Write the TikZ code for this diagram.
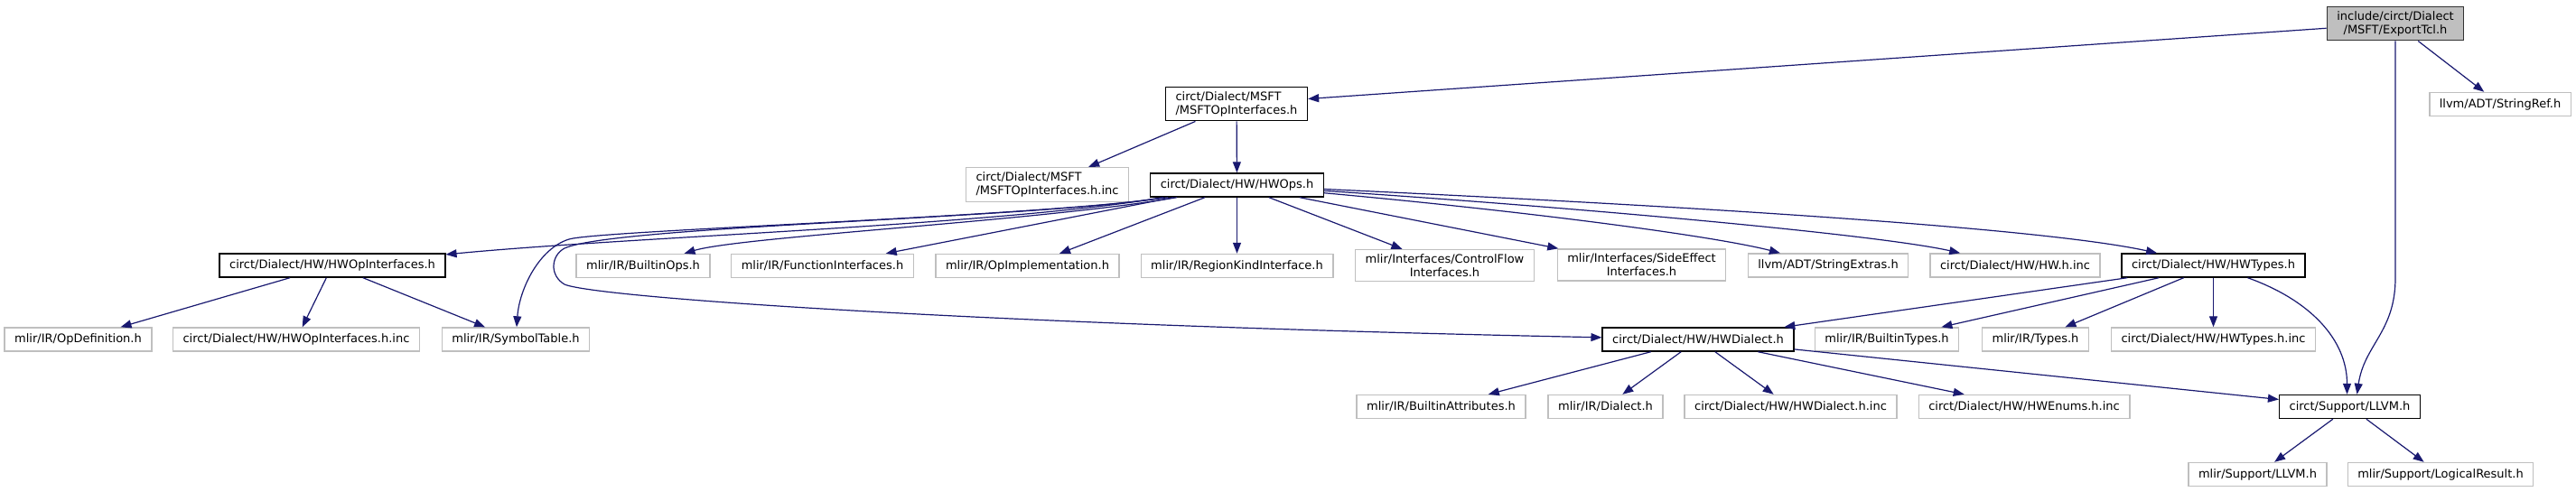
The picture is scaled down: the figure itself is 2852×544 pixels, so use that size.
\documentclass[tikz,border=0pt]{standalone}
\usepackage{fontspec}
\setmainfont{DejaVu Sans}
\usetikzlibrary{arrows.meta}

\definecolor{edgeblue}{HTML}{191970}
\definecolor{boxgray}{HTML}{BFBFBF}

\tikzset{
  header/.style={draw=black, line width=1.4pt, fill=white, inner xsep=11pt, inner ysep=5pt,
    minimum height=26pt, font=\fontsize{13}{15}\selectfont},
  extfile/.style={header, draw=boxgray},
  focus/.style={header, fill=boxgray, draw=black!80},
  dep/.style={draw=edgeblue, line width=1.2pt, -{Triangle[length=12pt,width=9pt]}}
}

\begin{document}
\begin{tikzpicture}[x=1pt,y=-1pt]
        \useasboundingbox (0,0) rectangle (2852,544);

        \node[focus, align=center] (tcl) at (2652,26) {include/circt/Dialect\\/MSFT/ExportTcl.h};
        \node[header, align=left] (msftif) at (1369,115) {circt/Dialect/MSFT\\/MSFTOpInterfaces.h};
        \node[extfile] (strref) at (2768,115.5) {llvm/ADT/StringRef.h};
        \node[extfile, align=left] (msftinc) at (1159.5,204.5) {circt/Dialect/MSFT\\/MSFTOpInterfaces.h.inc};
        \node[header] (hwops) at (1369.5,205) {circt/Dialect/HW/HWOps.h};

        \node[header] (hwopif) at (368,294) {circt/Dialect/HW/HWOpInterfaces.h};
        \node[extfile] (bops) at (712,294.5) {mlir/IR/BuiltinOps.h};
        \node[extfile] (funcif) at (910.5,294.5) {mlir/IR/FunctionInterfaces.h};
        \node[extfile] (opimpl) at (1137.5,294.5) {mlir/IR/OpImplementation.h};
        \node[extfile] (regkind) at (1369.5,294.5) {mlir/IR/RegionKindInterface.h};
        \node[extfile, align=center] (cflow) at (1599.5,294) {mlir/Interfaces/ControlFlow\\Interfaces.h};
        \node[extfile, align=center] (sideeff) at (1817.5,293.5) {mlir/Interfaces/SideEffect\\Interfaces.h};
        \node[extfile] (strext) at (2024,294) {llvm/ADT/StringExtras.h};
        \node[extfile] (hwinc) at (2231,294) {circt/Dialect/HW/HW.h.inc};
        \node[header] (hwtypes) at (2450.5,294) {circt/Dialect/HW/HWTypes.h};

        \node[extfile] (opdef) at (86.5,376) {mlir/IR/OpDefinition.h};
        \node[extfile] (hwopifinc) at (328,376) {circt/Dialect/HW/HWOpInterfaces.h.inc};
        \node[extfile] (symtab) at (571,376) {mlir/IR/SymbolTable.h};
        \node[header] (hwdialect) at (1880,376) {circt/Dialect/HW/HWDialect.h};
        \node[extfile] (btypes) at (2089,376) {mlir/IR/BuiltinTypes.h};
        \node[extfile] (types) at (2253.5,376) {mlir/IR/Types.h};
        \node[extfile] (hwtypesinc) at (2450.5,376) {circt/Dialect/HW/HWTypes.h.inc};

        \node[extfile] (battr) at (1595.5,450.5) {mlir/IR/BuiltinAttributes.h};
        \node[extfile] (dialect) at (1777.5,450.5) {mlir/IR/Dialect.h};
        \node[extfile] (hwdialinc) at (1982.5,450.5) {circt/Dialect/HW/HWDialect.h.inc};
        \node[extfile] (hwenums) at (2241,450.5) {circt/Dialect/HW/HWEnums.h.inc};
        \node[header] (llvm) at (2601.5,450.5) {circt/Support/LLVM.h};

        \node[extfile] (mlirllvm) at (2499.5,525.5) {mlir/Support/LLVM.h};
        \node[extfile] (logres) at (2702,525.5) {mlir/Support/LogicalResult.h};

        \draw[dep] (tcl) -- (msftif);
        \draw[dep] (tcl) -- (strref);
        \draw[dep] (tcl.south) -- (tcl.south |- hwtypes.south)
            .. controls +(0,60) and +(8,-55) .. ([xshift=8]llvm.north);

        \draw[dep] (msftif) -- (msftinc);
        \draw[dep] (msftif) -- (hwops);

        \draw[dep] ([xshift=15]hwops.south west) .. controls (1100,250) and (700,262) .. (hwopif);
        \draw[dep] ([xshift=20]hwops.south west) .. controls (1150,240) and (663,255) .. (630,265)
            .. controls (597,275) and (575,320) .. (symtab);
        \draw[dep] ([xshift=15]hwops.south west) .. controls (1150,242) and (680,250) .. (625,275)
            .. controls (610,283) and (608,305) .. (625,315)
            .. controls (660,330) and (1100,360) .. (hwdialect);
        \draw[dep] ([xshift=30]hwops.south west) .. controls (1150,245) and (820,262) .. (bops);
        \draw[dep] (hwops) -- (funcif);
        \draw[dep] (hwops) -- (opimpl);
        \draw[dep] (hwops) -- (regkind);
        \draw[dep] (hwops) -- (cflow);
        \draw[dep] (hwops) -- (sideeff);
        \draw[dep] (hwops) .. controls (1700,235) and (1900,262) .. (strext);
        \draw[dep] (hwops) .. controls (1750,230) and (2080,260) .. (hwinc);
        \draw[dep] (hwops) .. controls (1800,225) and (2250,250) .. (hwtypes);

        \draw[dep] (hwopif) -- (opdef);
        \draw[dep] (hwopif) -- (hwopifinc);
        \draw[dep] (hwopif) -- (symtab);

        \draw[dep] (hwtypes) -- (hwdialect);
        \draw[dep] (hwtypes) -- (btypes);
        \draw[dep] (hwtypes) -- (types);
        \draw[dep] (hwtypes) -- (hwtypesinc);
        \draw[dep] ([xshift=38]hwtypes.south) .. controls +(70,25) and +(0,-60) .. ([xshift=-3]llvm.north);

        \draw[dep] (hwdialect) -- (battr);
        \draw[dep] (hwdialect) -- (dialect);
        \draw[dep] (hwdialect) -- (hwdialinc);
        \draw[dep] (hwdialect) -- (hwenums);
        \draw[dep] (hwdialect) -- (llvm);

        \draw[dep] (llvm) -- (mlirllvm);
        \draw[dep] (llvm) -- (logres);
\end{tikzpicture}
\end{document}
